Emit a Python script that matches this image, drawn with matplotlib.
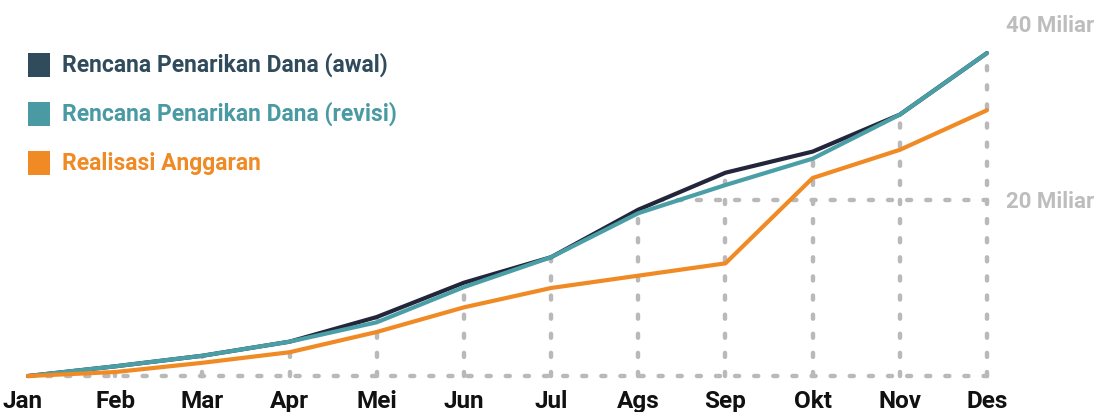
import matplotlib
matplotlib.use('Agg')
import matplotlib.pyplot as plt
from matplotlib.patches import Polygon, Rectangle
import numpy as np

# ---- data ----
months = ['Jan', 'Feb', 'Mar', 'Apr', 'Mei', 'Jun', 'Jul', 'Ags', 'Sep', 'Okt', 'Nov', 'Des']
rencana_awal = [0, 1.1, 2.3, 3.9, 6.7, 10.6, 13.5, 18.9, 23.1, 25.5, 29.7, 36.7]
rencana_revisi = [0, 1.1, 2.3, 3.9, 6.1, 10.1, 13.5, 18.5, 21.7, 24.7, 29.7, 36.7]
realisasi = [0, 0.45, 1.5, 2.7, 5.0, 7.8, 10.0, 11.4, 12.8, 22.5, 25.7, 30.2]
y_ticks = [0, 20, 40]
y_tick_labels = ['', '20 Miliar', '40 Miliar']
series_labels = ['Rencana Penarikan Dana (awal)',
                 'Rencana Penarikan Dana (revisi)',
                 'Realisasi Anggaran']

# ---- styles ----
W, H = 1111, 412
line_colors = ['#23263a', '#4a9ea6', '#f08a24']
text_colors = ['#2f4b5c', '#4a9aa3', '#f08a24']
grid_color = '#b9b9b9'
FONT = 'Roboto'

fig = plt.figure(figsize=(W / 100, H / 100), dpi=100)
ax = fig.add_axes([0, 0, 1, 1])
x0_px, dx_px = 28, 87.18
y0_px, dy_px = 376, 8.8
ax.set_xlim(-x0_px / dx_px, (W - x0_px) / dx_px)
ax.set_ylim((y0_px - H) / dy_px, y0_px / dy_px)
ax.axis('off')

x = np.arange(len(months))
ymax = np.maximum.reduce([np.array(rencana_awal), np.array(rencana_revisi), np.array(realisasi)])

# clip region: area under the highest curve
verts = [(x[0] - 0.3, -0.6)] + [(x[0] - 0.3, 0)] + list(zip(x, ymax)) + \
        [(x[-1] + 0.15, ymax[-1]), (x[-1] + 0.15, -0.6)]
clip = Polygon(verts, closed=True, transform=ax.transData, facecolor='none', edgecolor='none')
ax.add_patch(clip)

dash_kw = dict(color=grid_color, lw=3.2, dashes=(0.9, 3.4), dash_capstyle='round', zorder=1)
for xi in x:
    ln, = ax.plot([xi, xi], [0, y_ticks[-1]], **dash_kw)
    ln.set_clip_path(clip)
for yt in y_ticks:
    ln, = ax.plot([x[0], x[-1]], [yt, yt], **dash_kw)
    ln.set_clip_path(clip)

# series
for vals, c, z in zip([rencana_awal, rencana_revisi, realisasi], line_colors, [3, 4, 5]):
    ax.plot(x, vals, color=c, lw=3.0, solid_joinstyle='round', solid_capstyle='round', zorder=z)

# y labels
for yt, lab in zip(y_ticks, y_tick_labels):
    if lab:
        ax.text((1006 - x0_px) / dx_px, yt - 0.9, lab, color='#bdbdbd', fontsize=16,
                fontweight='bold', family=FONT, ha='left', va='baseline')

# month labels
for xi, m in zip(x, months):
    xpos = xi if xi > 0 else (23 - x0_px) / dx_px
    ax.text(xpos, (y0_px - 408) / dy_px, m, color='#111111', fontsize=17.5,
            fontweight='bold', family=FONT, ha='center', va='baseline')

# legend
def fx(px):
    return px / W

def fy(py):
    return 1 - py / H

baselines = [72, 121, 170]
for lab, c, tc, bl in zip(series_labels, text_colors, text_colors, baselines):
    top = bl - 19
    fig.patches.append(Rectangle((fx(28), fy(top + 24)), 22 / W, 24 / H,
                                 transform=fig.transFigure, facecolor=c, edgecolor='none'))
    fig.text(fx(62), fy(bl), lab, color=tc, fontsize=16.5, fontweight='bold',
             family=FONT, ha='left', va='baseline')

fig.savefig('out.png', dpi=100)
